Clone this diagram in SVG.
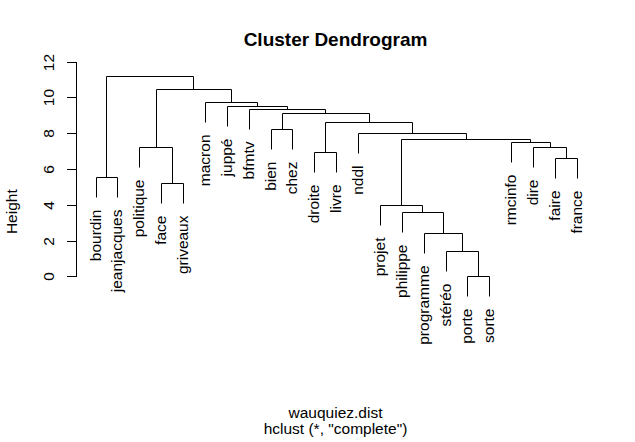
<svg xmlns="http://www.w3.org/2000/svg" width="635" height="442" viewBox="0 0 635 442">
<style>
text{font-family:"Liberation Sans",Arial,sans-serif;fill:#000;font-size:15.5px}
.lbl{text-anchor:end}
.mid{text-anchor:middle}
.title{font-size:19px;font-weight:bold;text-anchor:middle}
.ln{fill:none;stroke:#000;stroke-width:1}
</style>
<rect width="635" height="442" fill="#fff"/>
<text class="title" x="335.5" y="46">Cluster Dendrogram</text>
<g id="axis">
<path class="ln" d="M76.5 62.5V276.5M67 62.5H77M67 97.5H77M67 133.5H77M67 169.5H77M67 205.5H77M67 241.5H77M67 276.5H77"/>
<text class="mid" transform="translate(53.5,276.5) rotate(-90)">0</text>
<text class="mid" transform="translate(53.5,241.5) rotate(-90)">2</text>
<text class="mid" transform="translate(53.5,205.5) rotate(-90)">4</text>
<text class="mid" transform="translate(53.5,169.5) rotate(-90)">6</text>
<text class="mid" transform="translate(53.5,133.5) rotate(-90)">8</text>
<text class="mid" transform="translate(53.5,97.5) rotate(-90)">10</text>
<text class="mid" transform="translate(53.5,62.5) rotate(-90)">12</text>
<text class="mid" transform="translate(16.7,211.7) rotate(-90)">Height</text>
</g>
<g id="connectors" class="ln">
<path class="ln" d="M96.5 197.5V177.5H117.5V197.5"/>
<path class="ln" d="M161.5 203.5V183.5H183.5V203.5"/>
<path class="ln" d="M139.5 167.5V147.5H172.5V183.5"/>
<path class="ln" d="M467.5 296.5V276.5H489.5V296.5"/>
<path class="ln" d="M446.5 271.5V251.5H478.5V276.5"/>
<path class="ln" d="M424.5 253.5V233.5H462.5V251.5"/>
<path class="ln" d="M402.5 232.5V212.5H443.5V233.5"/>
<path class="ln" d="M380.5 225.5V205.5H422.5V212.5"/>
<path class="ln" d="M555.5 178.5V158.5H577.5V178.5"/>
<path class="ln" d="M533.5 167.5V147.5H566.5V158.5"/>
<path class="ln" d="M511.5 162.5V142.5H550.5V147.5"/>
<path class="ln" d="M401.5 205.5V139.5H530.5V142.5"/>
<path class="ln" d="M358.5 153.5V133.5H466.5V139.5"/>
<path class="ln" d="M314.5 172.5V152.5H336.5V172.5"/>
<path class="ln" d="M325.5 152.5V122.5H412.5V133.5"/>
<path class="ln" d="M271.5 149.5V129.5H292.5V149.5"/>
<path class="ln" d="M282.5 129.5V113.5H369.5V122.5"/>
<path class="ln" d="M249.5 129.5V109.5H325.5V113.5"/>
<path class="ln" d="M227.5 126.5V106.5H287.5V109.5"/>
<path class="ln" d="M205.5 122.5V102.5H257.5V106.5"/>
<path class="ln" d="M156.5 147.5V89.5H231.5V102.5"/>
<path class="ln" d="M106.5 177.5V76.5H193.5V89.5"/>
</g>
<g id="leaf-bourdin"><text class="lbl" transform="translate(100.5,209.5) rotate(-90)">bourdin</text></g>
<g id="leaf-jeanjacques"><text class="lbl" transform="translate(121.5,209.5) rotate(-90)">jeanjacques</text></g>
<g id="leaf-politique"><text class="lbl" transform="translate(143.5,179.5) rotate(-90)">politique</text></g>
<g id="leaf-face"><text class="lbl" transform="translate(165.5,215.5) rotate(-90)">face</text></g>
<g id="leaf-griveaux"><text class="lbl" transform="translate(187.5,215.5) rotate(-90)">griveaux</text></g>
<g id="leaf-macron"><text class="lbl" transform="translate(209.5,134.5) rotate(-90)">macron</text></g>
<g id="leaf-juppe"><text class="lbl" transform="translate(231.5,138.5) rotate(-90)">juppé</text></g>
<g id="leaf-bfmtv"><text class="lbl" transform="translate(253.5,141.5) rotate(-90)">bfmtv</text></g>
<g id="leaf-bien"><text class="lbl" transform="translate(275.5,161.5) rotate(-90)">bien</text></g>
<g id="leaf-chez"><text class="lbl" transform="translate(296.5,161.5) rotate(-90)">chez</text></g>
<g id="leaf-droite"><text class="lbl" transform="translate(318.5,184.5) rotate(-90)">droite</text></g>
<g id="leaf-livre"><text class="lbl" transform="translate(340.5,184.5) rotate(-90)">livre</text></g>
<g id="leaf-nddl"><text class="lbl" transform="translate(362.5,165.5) rotate(-90)">nddl</text></g>
<g id="leaf-projet"><text class="lbl" transform="translate(384.5,237.5) rotate(-90)">projet</text></g>
<g id="leaf-philippe"><text class="lbl" transform="translate(406.5,244.5) rotate(-90)">philippe</text></g>
<g id="leaf-programme"><text class="lbl" transform="translate(428.5,265.5) rotate(-90)">programme</text></g>
<g id="leaf-stereo"><text class="lbl" transform="translate(450.5,283.5) rotate(-90)">stéréo</text></g>
<g id="leaf-porte"><text class="lbl" transform="translate(471.5,308.5) rotate(-90)">porte</text></g>
<g id="leaf-sorte"><text class="lbl" transform="translate(493.5,308.5) rotate(-90)">sorte</text></g>
<g id="leaf-rmcinfo"><text class="lbl" transform="translate(515.5,174.5) rotate(-90)">rmcinfo</text></g>
<g id="leaf-dire"><text class="lbl" transform="translate(537.5,179.5) rotate(-90)">dire</text></g>
<g id="leaf-faire"><text class="lbl" transform="translate(559.5,190.5) rotate(-90)">faire</text></g>
<g id="leaf-france"><text class="lbl" transform="translate(581.5,190.5) rotate(-90)">france</text></g>
<text class="mid" x="335.5" y="417.5">wauquiez.dist</text>
<text class="mid" x="335.5" y="433.5">hclust (*, "complete")</text>
</svg>
